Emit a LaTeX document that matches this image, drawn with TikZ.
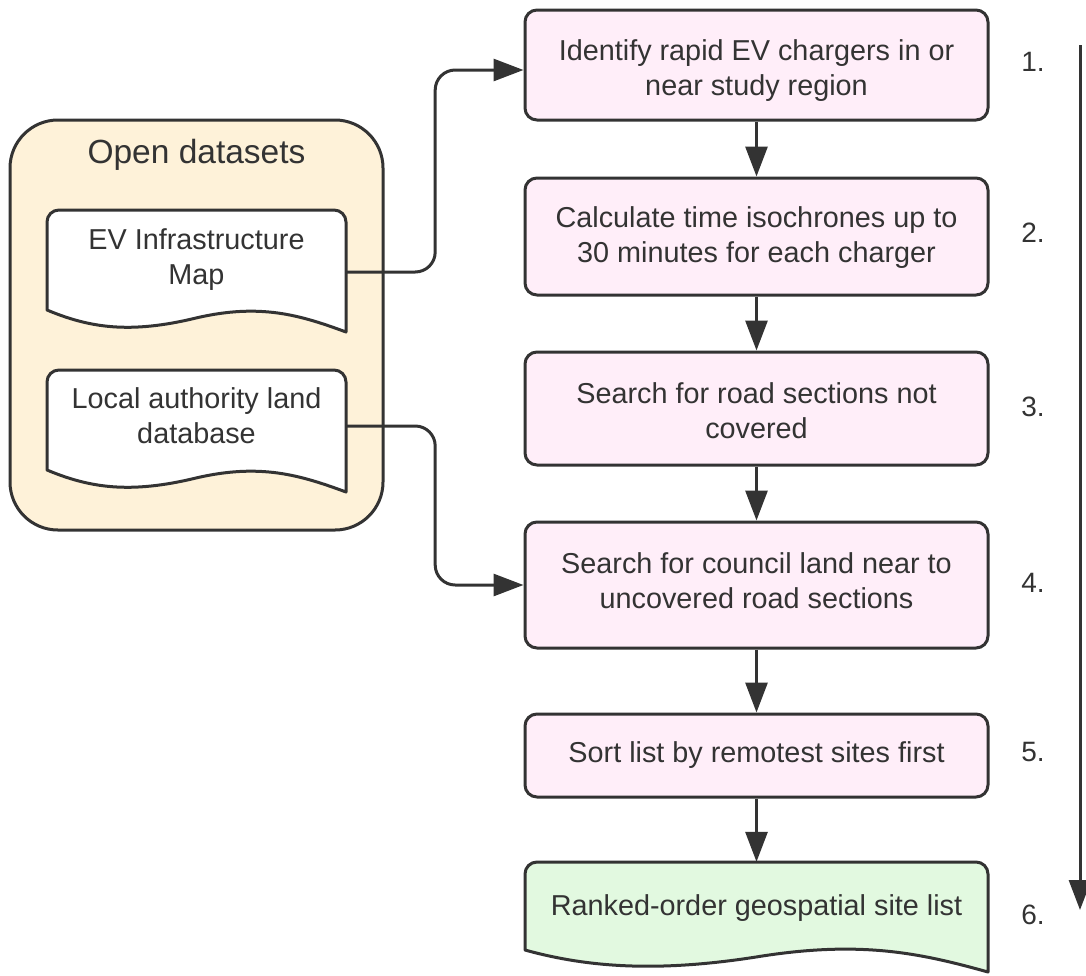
\documentclass[tikz,border=0pt]{standalone}
\usepackage{fontspec}
\setmainfont{Liberation Sans}
\usetikzlibrary{arrows.meta}
\definecolor{ink}{HTML}{333333}
\definecolor{pinkfill}{HTML}{FFEEF9}
\definecolor{greenfill}{HTML}{E2F9E0}
\definecolor{creamfill}{HTML}{FEF2D9}
\begin{document}
\begin{tikzpicture}[x=1pt,y=-1pt,
  every node/.style={text=ink, font=\fontsize{28.8}{35}\selectfont},
  stepbox/.style={draw=ink, line width=3pt, fill=pinkfill, rounded corners=12pt, minimum width=463pt, inner sep=0pt},
  steptext/.style={align=center, inner sep=0pt},
  shapeline/.style={draw=ink, line width=3pt, line join=round},
  flow/.style={draw=ink, line width=3pt, -{Triangle[length=30pt,width=22pt]}},
  link/.style={flow, rounded corners=20pt},
  numlabel/.style={font=\fontsize{28}{30}\selectfont}
]
\useasboundingbox (0,0) rectangle (1086,975);

% container
\node[draw=ink, line width=3pt, fill=creamfill, rounded corners=48pt, minimum width=373pt, minimum height=410pt, inner sep=0pt] (open) at (196.5,325) {};
\node[font=\fontsize{33.5}{40}\selectfont] (opentitle) at (196.5,155) {Open datasets};

% document shapes
\path[shapeline, fill=white] (47,310) -- (47,222) arc[start angle=180,end angle=270,radius=12] -- (334,210) arc[start angle=270,end angle=360,radius=12] -- (346,332) .. controls (300,315) and (260,303) .. (196,318) .. controls (130,334) and (90,328) .. (47,310) -- cycle;
\path[shapeline, fill=white, shift={(0,160)}] (47,310) -- (47,222) arc[start angle=180,end angle=270,radius=12] -- (334,210) arc[start angle=270,end angle=360,radius=12] -- (346,332) .. controls (300,315) and (260,303) .. (196,318) .. controls (130,334) and (90,328) .. (47,310) -- cycle;
\node[steptext, minimum width=299pt] (d1) at (196.5,259.5) {EV Infrastructure\\Map};
\node[steptext, minimum width=299pt] (d2) at (196.5,415.5) {Local authority land\\database};

% steps
\node[stepbox, minimum height=110pt] (b1) at (756.5,65) {};
\node[steptext] (b1t) at (756.5,70.5) {Identify rapid EV chargers in or\\near study region};
\node[stepbox, minimum height=117pt] (b2) at (756.5,236.5) {};
\node[steptext] (b2t) at (756.5,238) {Calculate time isochrones up to\\30 minutes for each charger};
\node[stepbox, minimum height=113pt] (b3) at (756.5,408.5) {};
\node[steptext] (b3t) at (756.5,410.5) {Search for road sections not\\covered};
\node[stepbox, minimum height=126pt] (b4) at (756.5,585) {};
\node[steptext] (b4t) at (756.5,580.5) {Search for council land near to\\uncovered road sections};
\node[stepbox, minimum height=83pt] (b5) at (756.5,755.5) {};
\node[steptext] (b5t) at (756.5,755.5) {Sort list by remotest sites first};

% final document
\path[shapeline, fill=greenfill] (525,950) -- (525,874) arc[start angle=180,end angle=270,radius=12] -- (976,862) arc[start angle=270,end angle=360,radius=12] -- (988,972) .. controls (920,953) and (860,940) .. (756,957) .. controls (660,972) and (590,968) .. (525,950) -- cycle;
\node[minimum width=463pt, minimum height=86pt, inner sep=0pt] (b6) at (756.5,905) {};
\node[steptext] (b6t) at (756.5,908) {Ranked-order geospatial site list};

% connectors
\draw[link] ([yshift=-12.5pt]d1.east) -- ++(89,0) |- ([yshift=-5pt]b1.west);
\draw[link] ([yshift=-10.5pt]d2.east) -- ++(89,0) |- (b4.west);
\draw[flow] (b1) -- (b2);
\draw[flow] (b2) -- (b3);
\draw[flow] (b3) -- (b4);
\draw[flow] (b4) -- (b5);
\draw[flow] (b5) -- (b6);

% order arrow
\coordinate (otop) at (1080,45);
\coordinate (obot) at (1080,910);
\draw[flow] (otop) -- (obot);

% numbers
\node[numlabel] (n1) at (1033,62) {1.};
\node[numlabel] (n2) at (1033,233) {2.};
\node[numlabel] (n3) at (1033,407) {3.};
\node[numlabel] (n4) at (1033,583) {4.};
\node[numlabel] (n5) at (1033,752) {5.};
\node[numlabel] (n6) at (1033,915) {6.};
\end{tikzpicture}
\end{document}
